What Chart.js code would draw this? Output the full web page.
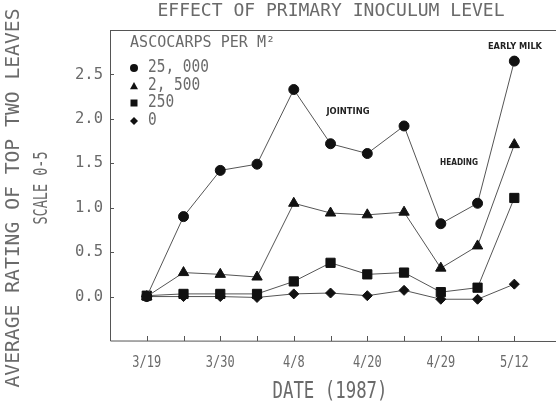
<!DOCTYPE html>
<html>
<head>
<meta charset="utf-8">
<script src="https://cdn.jsdelivr.net/npm/chart.js@4.4.1/dist/chart.umd.min.js"></script>
<style>
  html, body { margin: 0; padding: 0; background: #fff; }
  #wrap { width: 556px; height: 403px; }
</style>
</head>
<body>
<div id="wrap"><canvas id="diseaseChart" width="556" height="403"></canvas></div>
<script>
// sampling dates, labels only on every other one (as on the original axis)
const dateLabels = ['3/19', '', '3/30', '', '4/8', '', '4/20', '', '4/29', '', '5/12']
const yTicks = [0.0, 0.5, 1.0, 1.5, 2.0, 2.5]

// average rating by ascocarps per m2
const level25000 = [0.00, 0.90, 1.42, 1.49, 2.33, 1.72, 1.61, 1.92, 0.82, 1.05, 2.65]
const level2500 = [0.00, 0.27, 0.25, 0.22, 1.05, 0.94, 0.92, 0.95, 0.32, 0.57, 1.71]
const level250 = [0.01, 0.03, 0.03, 0.03, 0.17, 0.38, 0.25, 0.27, 0.05, 0.10, 1.11]
const level0 = [0.00, 0.00, 0.00, -0.01, 0.03, 0.04, 0.01, 0.07, -0.03, -0.03, 0.14]

const INK = '#111'
const TEXT = '#6a6a6a'
const MONO = '"DejaVu Sans Mono", monospace'

const toPoints = (arr) => arr.map((v, i) => ({ x: i, y: v }))

const makeSet = (label, data, style, radius) => ({
  label: label,
  data: toPoints(data),
  borderColor: '#555',
  borderWidth: 1,
  pointStyle: style,
  pointRadius: radius,
  pointBackgroundColor: INK,
  pointBorderColor: INK,
  pointBorderWidth: 1,
  tension: 0
})

// text squeezed horizontally to a given width (the original lettering is condensed)
function squeezeText(ctx, text, x, y, font, width, align) {
  ctx.save()
  ctx.font = font
  const w = ctx.measureText(text).width
  ctx.translate(x, y)
  ctx.scale(width ? width / w : 1, 1)
  ctx.textBaseline = 'middle'
  ctx.textAlign = align || 'center'
  ctx.fillText(text, 0, 0)
  ctx.restore()
}

function marker(ctx, style, x, y, r) {
  ctx.beginPath()
  if (style === 'circle') {
    ctx.arc(x, y, r, 0, Math.PI * 2)
  } else if (style === 'triangle') {
    ctx.moveTo(x, y - r)
    ctx.lineTo(x + r, y + r * 0.8)
    ctx.lineTo(x - r, y + r * 0.8)
  } else if (style === 'rect') {
    ctx.rect(x - r, y - r, 2 * r, 2 * r)
  } else {
    ctx.moveTo(x, y - r)
    ctx.lineTo(x + r, y)
    ctx.lineTo(x, y + r)
    ctx.lineTo(x - r, y)
  }
  ctx.closePath()
  ctx.fill()
}

const mono = (size) => size + 'px ' + MONO

const decorations = {
  id: 'decorations',
  afterDraw(chart) {
    const ctx = chart.ctx
    const area = chart.chartArea
    const xs = chart.scales.x
    const ys = chart.scales.y

    // frame: left, bottom and top lines
    ctx.save()
    ctx.strokeStyle = '#555'
    ctx.lineWidth = 1
    ctx.beginPath()
    ctx.moveTo(area.left + 0.5, area.top)
    ctx.lineTo(area.left + 0.5, area.bottom)
    ctx.lineTo(556, area.bottom + 0.5)
    ctx.moveTo(area.left, area.top + 0.5)
    ctx.lineTo(556, area.top + 0.5)
    ctx.stroke()

    // inward tick marks
    ctx.beginPath()
    yTicks.forEach((v) => {
      const py = Math.round(ys.getPixelForValue(v)) + 0.5
      ctx.moveTo(area.left, py)
      ctx.lineTo(area.left + 4, py)
    })
    dateLabels.forEach((lab, i) => {
      const px = Math.round(xs.getPixelForValue(i)) + 0.5
      ctx.moveTo(px, area.bottom)
      ctx.lineTo(px, area.bottom - 5)
    })
    ctx.stroke()

    ctx.fillStyle = TEXT
    yTicks.forEach((v) => {
      squeezeText(ctx, v.toFixed(1), 103, ys.getPixelForValue(v), mono(16), 28, 'right')
    })
    dateLabels.forEach((lab, i) => {
      if (lab) squeezeText(ctx, lab, xs.getPixelForValue(i), 363, mono(16), lab.length * 7.2)
    })

    // titles
    squeezeText(ctx, 'EFFECT OF PRIMARY INOCULUM LEVEL', 331, 11, mono(18), 347)
    squeezeText(ctx, 'DATE (1987)', 330, 392, mono(23), 115)
    ctx.save()
    ctx.translate(14, 198)
    ctx.rotate(-Math.PI / 2)
    squeezeText(ctx, 'AVERAGE RATING OF TOP TWO LEAVES', 0, 0, mono(20), 379)
    squeezeText(ctx, 'SCALE 0-5', 10, 28, mono(20), 73)
    ctx.restore()

    // legend
    squeezeText(ctx, 'ASCOCARPS PER M\u00B2', 130, 43, mono(16), 145, 'left')
    const entries = [
      ['circle', '25, 000', 68],
      ['triangle', '2, 500', 86],
      ['rect', '250', 103],
      ['diamond', '0', 121]
    ]
    entries.forEach(([style, txt, y]) => {
      ctx.fillStyle = INK
      marker(ctx, style, 134, y, style === 'rect' ? 3.5 : 4)
      ctx.fillStyle = TEXT
      squeezeText(ctx, txt, 148, y, mono(17), txt.length * 8.7, 'left')
    })

    // growth stages
    ctx.fillStyle = '#222'
    const bold = 'bold 9px "DejaVu Sans", sans-serif'
    squeezeText(ctx, 'JOINTING', 348, 112, bold, 43)
    squeezeText(ctx, 'HEADING', 459, 163, bold, 38)
    squeezeText(ctx, 'EARLY MILK', 515, 47, bold, 54)
    ctx.restore()
  }
}

new Chart(document.getElementById('diseaseChart'), {
  type: 'line',
  data: {
    datasets: [
      makeSet('25,000', level25000, 'circle', 5),
      makeSet('2,500', level2500, 'triangle', 6),
      makeSet('250', level250, 'rect', 6.5),
      makeSet('0', level0, 'rectRot', 5)
    ]
  },
  options: {
    responsive: false,
    animation: false,
    devicePixelRatio: 1,
    layout: { padding: { left: 110, top: 30, right: 0, bottom: 62 } },
    plugins: {
      legend: { display: false },
      tooltip: { enabled: false }
    },
    scales: {
      x: { type: 'linear', display: false, min: -1, max: 10.93 },
      y: { display: false, min: -0.5, max: 3.0 }
    }
  },
  plugins: [decorations]
})
</script>
</body>
</html>
